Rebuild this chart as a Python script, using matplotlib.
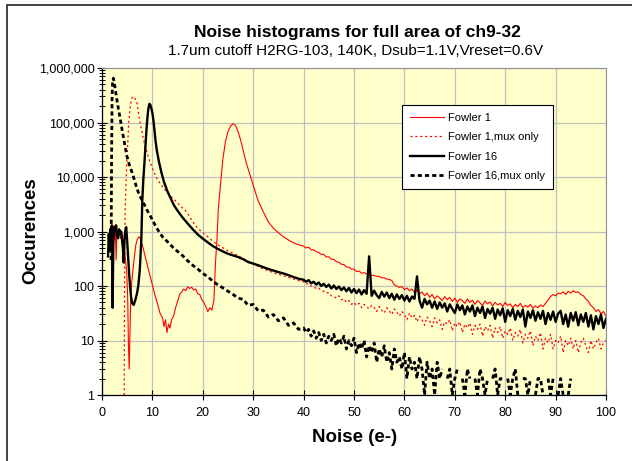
import numpy as np
import matplotlib.pyplot as plt
from matplotlib.patches import Rectangle
from matplotlib.ticker import LogLocator, FuncFormatter, NullFormatter, MultipleLocator

plt.rcParams['font.family'] = ['Liberation Sans', 'DejaVu Sans']
plt.rcParams['lines.scale_dashes'] = False

# histogram bins beyond 40 e- (every 0.5 e-), shared by all four series
tail_x = np.arange(40, 100.25, 0.5)

# Fowler 1 (red solid)
f1_x = [2.2, 2.35, 2.5, 2.65, 2.8, 2.95, 3.1, 3.4, 3.7, 4.0, 4.3, 4.6, 4.9, 5.1, 5.25, 5.4,
        5.55, 5.7, 5.9, 6.1, 6.4, 6.7, 7.0, 7.3, 7.6, 7.9, 8.2, 8.6, 9.0, 9.5, 10.0, 10.5,
        11.0, 11.5, 12.0, 12.3, 12.6, 12.9, 13.2, 13.5, 13.8, 14.2, 14.6, 15.0, 15.4, 15.8,
        16.2, 16.6, 17.0, 17.4, 17.8, 18.2, 18.6, 19.0, 19.4, 19.8, 20.2, 20.6, 21.0, 21.4,
        21.8, 22.2, 22.5, 22.8, 23.1, 23.5, 24.0, 24.5, 25.0, 25.5, 26.0, 26.5, 27.0, 27.5,
        28.0, 28.5, 29.0, 29.5, 30.0, 31, 32, 33, 34, 35, 36, 37, 38, 39]
f1_y = [400, 1300, 700, 1100, 300, 900, 800, 1000, 750, 900, 600, 350, 180, 60, 8, 3,
        15, 60, 120, 180, 330, 560, 720, 800, 740, 600, 480, 340, 240, 160, 105, 68,
        48, 32, 26, 18, 24, 14, 20, 17, 24, 28, 40, 52, 70, 78,
        88, 82, 96, 90, 95, 84, 88, 72, 70, 56, 50, 42, 34, 40,
        36, 55, 250, 700, 2800, 7000, 22000, 45000, 68000, 86000, 95000, 88000, 68000, 48000,
        31000, 20000, 14000, 10000, 7200, 3600, 2300, 1500, 1150, 950, 800, 700, 620, 570]
f1_tail = [540, 500, 515, 460, 462, 425, 412, 380, 382, 340,
           345, 310, 308, 280, 274, 250, 248, 222, 222, 204,
           204, 184, 188, 172, 176, 166, 164, 158, 156, 150,
           150, 142, 142, 134, 132, 126, 105, 100, 94, 98,
           86, 92, 82, 88, 76, 84, 72, 78, 66, 74,
           62, 70, 58, 66, 60, 54, 64, 56, 62, 52,
           60, 50, 58, 54, 48, 58, 50, 55, 46, 54,
           49, 44, 53, 47, 51, 43, 50, 45, 48, 42,
           50, 44, 47, 40, 46, 42, 48, 40, 44, 41,
           46, 39, 43, 40, 45, 42, 48, 55, 64, 70,
           66, 74, 72, 78, 70, 80, 74, 82, 76, 78,
           70, 66, 58, 52, 44, 40, 34, 37, 31, 34,
           28]

# Fowler 1, mux only (red dotted)
f1m_x = [4.4, 4.45, 4.5, 4.6, 4.75, 4.9, 5.1, 5.3, 5.45, 5.6, 5.8, 6.0, 6.2, 6.5, 6.9, 7.2,
         7.5, 7.9, 8.2, 8.6, 9.0, 9.5, 10.2, 10.9, 11.8, 12.8, 13.8, 14.8, 15.8, 16.8, 18, 19,
         20, 21, 22, 23, 24, 25, 26, 27, 28, 29, 30, 31, 32, 33, 34, 35, 36, 37, 38, 39]
f1m_y = [1, 40, 500, 2500, 7000, 16000, 40000, 100000, 140000, 190000, 250000, 290000,
         300000, 280000, 240000, 160000, 105000, 70000, 51000, 36000, 27000, 19000, 13000,
         9300, 7000, 5400, 4300, 3500, 2800, 2300, 1500, 1150,
         950, 800, 660, 570, 500, 440, 400, 360, 320, 285, 255, 230, 205, 190, 175, 165,
         155, 145, 135, 125]
f1m_tail = [120, 108, 112, 100, 96, 90, 92, 82, 80, 74,
            76, 66, 64, 60, 66, 56, 58, 50, 54, 46,
            50, 44, 48, 40, 46, 42, 38, 44, 40, 34,
            42, 36, 32, 40, 35, 30, 38, 33, 28, 34,
            30, 24, 32, 26, 29, 22, 28, 24, 19, 27,
            23, 18, 26, 21, 24, 16, 22, 20, 24, 15,
            21, 18, 22, 14, 20, 17, 21, 13, 19, 16,
            20, 12, 18, 15, 19, 11, 17, 14, 18, 11,
            15, 13, 17, 10, 14, 12, 16, 9, 13, 11,
            15, 8, 12, 10, 14, 7, 11, 9, 13, 7,
            10, 9, 12, 6, 10, 8, 11, 7, 10, 6,
            9, 11, 8, 6, 10, 7, 9, 11, 7, 9,
            10]

# Fowler 16 (black solid)
f16_x = [1.2, 1.35, 1.5, 1.65, 1.8, 1.95, 2.1, 2.25, 2.4, 2.6, 2.8, 3.0, 3.2, 3.4, 3.6, 3.8,
         4.0, 4.15, 4.3, 4.45, 4.6, 4.8, 5.0, 5.2, 5.4, 5.6, 5.8, 6.0, 6.3, 6.6, 6.9, 7.2,
         7.5, 7.8, 8.0, 8.2, 8.4, 8.6, 8.8, 9.0, 9.2, 9.4, 9.6, 9.8, 10.0, 10.2, 10.4, 10.6,
         10.9, 11.3, 11.8, 12.3, 13.0, 13.6, 14.3, 15.0, 16, 17, 18, 19, 20, 21, 22, 23, 24,
         25, 26, 27, 28, 29, 30, 31, 32, 33, 34, 35, 36, 37, 38, 39]
f16_y = [350, 900, 450, 1100, 700, 1300, 40, 600, 1200, 1000, 1300, 800, 750, 1100, 900, 1000,
         650, 500, 270, 700, 1000, 1200, 650, 320, 160, 90, 60, 48, 45, 55, 70, 100,
         200, 700, 3800, 9000, 17000, 35000, 68000, 120000, 180000, 220000, 210000, 180000,
         150000, 110000, 75000, 48000,
         30000, 19000, 12000, 8100, 5400, 4100, 3000, 2400, 1800, 1400, 1100, 880, 740, 630,
         540, 480, 430,
         390, 365, 340, 310, 275, 258, 240, 222, 205, 192, 180, 170, 158, 146, 136]
f16_tail = [130, 120, 128, 112, 120, 106, 116, 100, 110, 96,
            106, 90, 102, 88, 98, 84, 94, 80, 92, 76,
            88, 74, 86, 70, 84, 72, 350, 66, 82, 68,
            60, 78, 64, 76, 60, 72, 56, 70, 58, 68,
            54, 66, 52, 64, 58, 150, 54, 40, 58, 46,
            54, 40, 52, 38, 50, 40, 48, 34, 46, 38,
            32, 46, 36, 44, 30, 42, 34, 44, 28, 40,
            32, 42, 26, 38, 31, 40, 25, 37, 29, 39,
            22, 36, 28, 38, 24, 35, 27, 37, 18, 34,
            26, 36, 23, 33, 25, 35, 20, 32, 24, 34,
            22, 31, 35, 20, 30, 18, 32, 23, 33, 19,
            30, 22, 32, 18, 29, 16, 28, 20, 30, 17,
            25]

# Fowler 16, mux only (black dashed)
f16m_x = [1.8, 1.85, 1.9, 1.95, 2.0, 2.1, 2.25, 2.4, 2.6, 2.9, 3.2, 3.6, 4.0, 4.4, 4.9, 5.4,
          5.9, 6.4, 6.9, 7.5, 8.2, 8.8, 9.5, 10.2, 11, 12, 13, 14, 15, 16, 17, 18, 19, 20,
          21, 22, 23, 24, 25, 26, 27, 28, 29, 30, 31, 32, 33, 34, 35, 36, 37, 38, 39]
f16m_y = [300, 3000, 20000, 100000, 300000, 550000, 650000, 560000, 430000, 280000, 190000,
          120000, 72000, 45000, 25000, 17000, 12600, 9000, 6200, 4500, 3400, 2600, 2000,
          1500, 1100, 800, 650, 520, 430, 360, 290, 240, 205, 170,
          148, 122, 105, 92, 80, 70, 60, 57, 44, 46, 35, 36, 27, 30, 23, 26, 19, 21, 16]
f16m_tail = [17, 14, 16, 12, 15, 11, 14, 10, 13, 9,
             12, 10, 13, 8, 11, 9, 12, 7, 10, 8,
             11, 6, 9, 7, 10, 5, 8, 6, 9, 4,
             7, 5, 8, 4, 6, 3, 7, 4, 5, 3,
             6, 2, 5, 3, 4, 2, 5, 3, 1, 4,
             2, 3, 1, 4, 2, 3, 0, 2, 3, 1,
             2, 3, 0, 2, 1, 3, 2, 0, 2, 1,
             3, 2, 1, 2, 0, 2, 3, 1, 2, 2,
             0, 2, 1, 2, 3, 1, 0, 2, 2, 1,
             2, 0, 1, 2, 2, 1, 0, 2, 1, 2,
             0, 1, 2, 1, 0, 1, 2, 0, 0, 1,
             0, 1, 0, 0, 1, 0, 0, 1, 0, 0,
             2]


def series(head_x, head_y, tail_y):
    x = np.concatenate([head_x, tail_x])
    y = np.concatenate([head_y, tail_y]).astype(float)
    y[y <= 0] = np.nan  # empty bins are not drawn on a log axis
    return x, y


fig = plt.figure(figsize=(6.32, 4.61), dpi=100)
ax = fig.add_axes([102 / 632, 1 - 395 / 461, 504 / 632, 327 / 461])
ax.set_facecolor('#FFFFCC')

x, y = series(f1_x, f1_y, f1_tail)
ax.plot(x, y, color='#FF0000', lw=0.8, label='Fowler 1')
x, y = series(f1m_x, f1m_y, f1m_tail)
ax.plot(x, y, color='#FF0000', lw=0.9, ls=(0, (1.5, 2)), label='Fowler 1,mux only')
x, y = series(f16_x, f16_y, f16_tail)
ax.plot(x, y, color='black', lw=1.7, label='Fowler 16')
x, y = series(f16m_x, f16m_y, f16m_tail)
ax.plot(x, y, color='black', lw=2.0, ls=(0, (3, 2.2)), label='Fowler 16,mux only')

ax.set_yscale('log')
ax.set_xlim(0, 100)
ax.set_ylim(1, 1e6)
ax.xaxis.set_major_locator(MultipleLocator(10))
ax.yaxis.set_major_locator(LogLocator(base=10, numticks=10))
ax.yaxis.set_minor_locator(LogLocator(base=10, subs=np.arange(2, 10), numticks=20))
ax.yaxis.set_minor_formatter(NullFormatter())
ax.yaxis.set_major_formatter(FuncFormatter(lambda v, p: f'{v:,.0f}'))
ax.tick_params(which='major', direction='inout', length=7, width=0.8, labelsize=9)
ax.tick_params(which='minor', direction='inout', length=4, width=0.7)
ax.tick_params(axis='x', pad=5)
ax.tick_params(axis='y', pad=2)

ax.grid(True, which='major', color='#C0C0C0', lw=0.9)
ax.set_axisbelow(True)
for s in ['top', 'right']:
    ax.spines[s].set_color('#909090')
for s in ['left', 'bottom']:
    ax.spines[s].set_color('black')
    ax.spines[s].set_linewidth(0.9)

leg = ax.legend(loc='upper left', bbox_to_anchor=(402 / 632, 1 - 105 / 461),
                bbox_transform=fig.transFigure, borderaxespad=0, fontsize=8,
                fancybox=False, framealpha=1, edgecolor='black', handlelength=3.1,
                handletextpad=0.35, labelspacing=0.85, borderpad=0.7)
leg.get_frame().set_linewidth(0.8)

fig.text(357 / 632, 1 - 32 / 461, 'Noise histograms for full area of ch9-32',
         ha='center', va='center', fontsize=12.5, fontweight='bold')
fig.text(356 / 632, 1 - 51 / 461, '1.7um cutoff H2RG-103, 140K, Dsub=1.1V,Vreset=0.6V',
         ha='center', va='center', fontsize=11)
fig.text(31 / 632, 1 - 231 / 461, 'Occurences', rotation=90, ha='center', va='center',
         fontsize=13.5, fontweight='bold')
fig.text(355 / 632, 1 - 437 / 461, 'Noise (e-)', ha='center', va='center',
         fontsize=13.5, fontweight='bold')

# chart border (only its top and left edges fall inside the picture)
fig.add_artist(Rectangle((7 / 632, -0.05), 1.1, 1.05 - 5 / 461, transform=fig.transFigure,
                         fill=False, edgecolor='#222222', lw=1.2))

fig.savefig('out.png', dpi=100)
